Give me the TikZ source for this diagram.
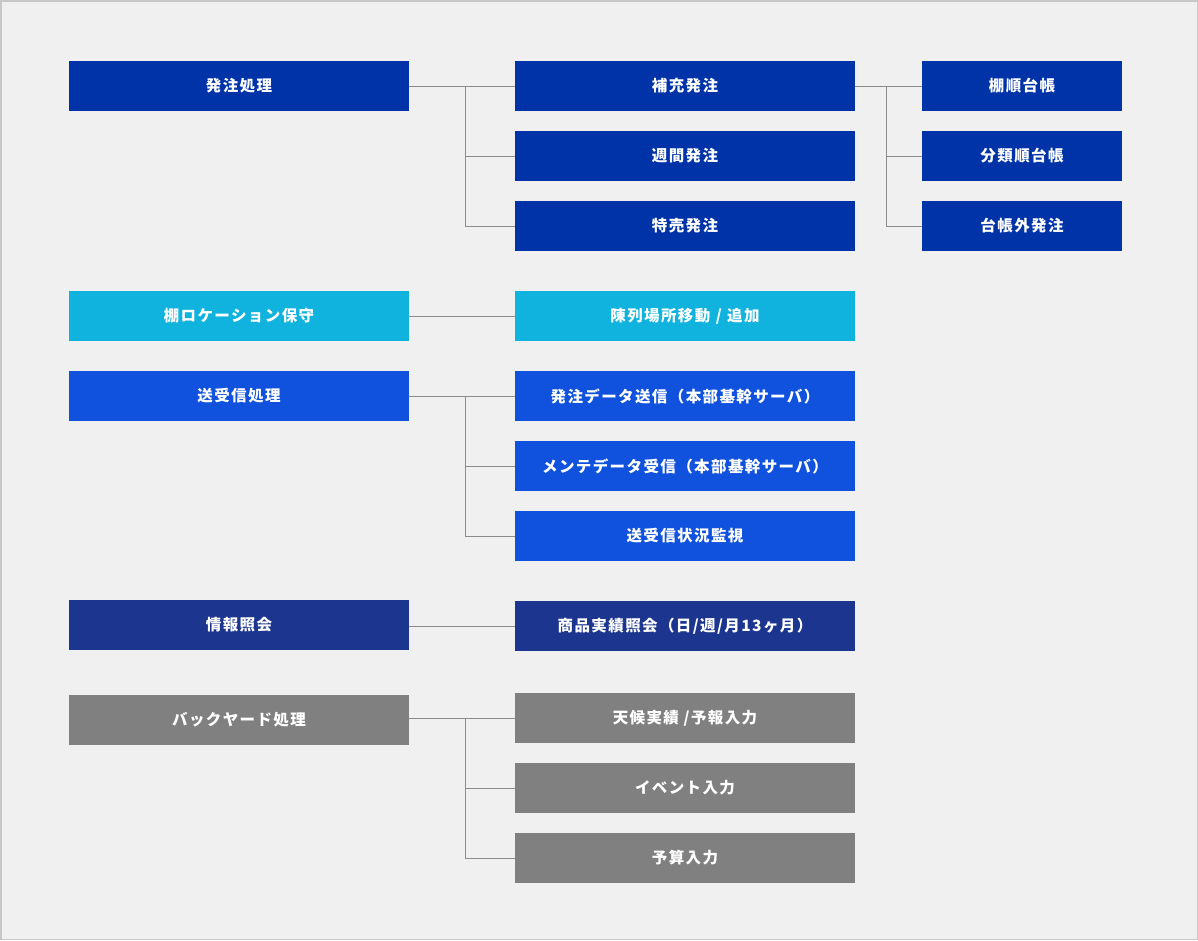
\documentclass[tikz,border=0pt]{standalone}
\usepackage{fontspec}
\newfontfamily\jp[LetterSpace=9]{Noto Sans CJK JP}
\definecolor{bg}{HTML}{F0F0F0}
\definecolor{frame}{HTML}{C8C8C8}
\definecolor{dblue}{HTML}{0033A8}
\definecolor{cyanb}{HTML}{10B2DE}
\definecolor{bblue}{HTML}{1052DD}
\definecolor{navy}{HTML}{1C368F}
\definecolor{grayb}{HTML}{808080}
\definecolor{conn}{HTML}{8C8C8C}
\tikzset{
  box/.style={minimum height=50pt, inner sep=0pt, text=white, font=\jp\bfseries\fontsize{15.5pt}{18pt}\selectfont},
  wide/.style={box, minimum width=340pt},
  narrow/.style={box, minimum width=200pt},
  link/.style={draw=conn, line width=1pt}
}
\begin{document}
\begin{tikzpicture}[x=1pt,y=-1pt]
\fill[bg] (0,0) rectangle (1198,940);
\draw[frame, line width=1.5pt] (0.75,0.75) rectangle (1197.25,939.25);
\useasboundingbox (0,0) rectangle (1198,940);
% group 1
\node[wide, fill=dblue] (l1) at (239,86) {発注処理};
\node[wide, fill=dblue] (m11) at (685,86) {補充発注};
\node[wide, fill=dblue] (m12) at (685,156) {週間発注};
\node[wide, fill=dblue] (m13) at (685,226) {特売発注};
\node[narrow, fill=dblue] (r1) at (1022,86) {棚順台帳};
\node[narrow, fill=dblue] (r2) at (1022,156) {分類順台帳};
\node[narrow, fill=dblue] (r3) at (1022,226) {台帳外発注};
\coordinate (j1) at (465,86);
\coordinate (j2) at (886,86);
\draw[link] (l1.east) -- (m11.west);
\draw[link] (j1) |- (m12.west);
\draw[link] (j1) |- (m13.west);
\draw[link] (m11.east) -- (r1.west);
\draw[link] (j2) |- (r2.west);
\draw[link] (j2) |- (r3.west);
% group 2
\node[wide, fill=cyanb] (l2) at (239,316) {棚ロケーション保守};
\node[wide, fill=cyanb] (m21) at (685,316) {陳列場所移動\hspace{0.35em}/\hspace{0.35em}追加};
\draw[link] (l2.east) -- (m21.west);
% group 3
\node[wide, fill=bblue] (l3) at (239,396) {送受信処理};
\node[wide, fill=bblue] (m31) at (685,396) {発注データ送信（本部基幹サーバ）};
\node[wide, fill=bblue] (m32) at (685,466) {メンテデータ受信（本部基幹サーバ）};
\node[wide, fill=bblue] (m33) at (685,536) {送受信状況監視};
\coordinate (j3) at (465,396);
\draw[link] (l3.east) -- (m31.west);
\draw[link] (j3) |- (m32.west);
\draw[link] (j3) |- (m33.west);
% group 4
\node[wide, fill=navy] (l4) at (239,625) {情報照会};
\node[wide, fill=navy] (m41) at (685,626) {商品実績照会（日/週/月13ヶ月）};
\draw[link] (l4.east |- m41.west) -- (m41.west);
% group 5
\node[wide, fill=grayb] (l5) at (239,720) {バックヤード処理};
\node[wide, fill=grayb] (m51) at (685,718) {天候実績\hspace{0.3em}/予報入力};
\node[wide, fill=grayb] (m52) at (685,788) {イベント入力};
\node[wide, fill=grayb] (m53) at (685,858) {予算入力};
\coordinate (j5) at (465,718);
\draw[link] (l5.east |- m51.west) -- (m51.west);
\draw[link] (j5) |- (m52.west);
\draw[link] (j5) |- (m53.west);
\end{tikzpicture}
\end{document}
